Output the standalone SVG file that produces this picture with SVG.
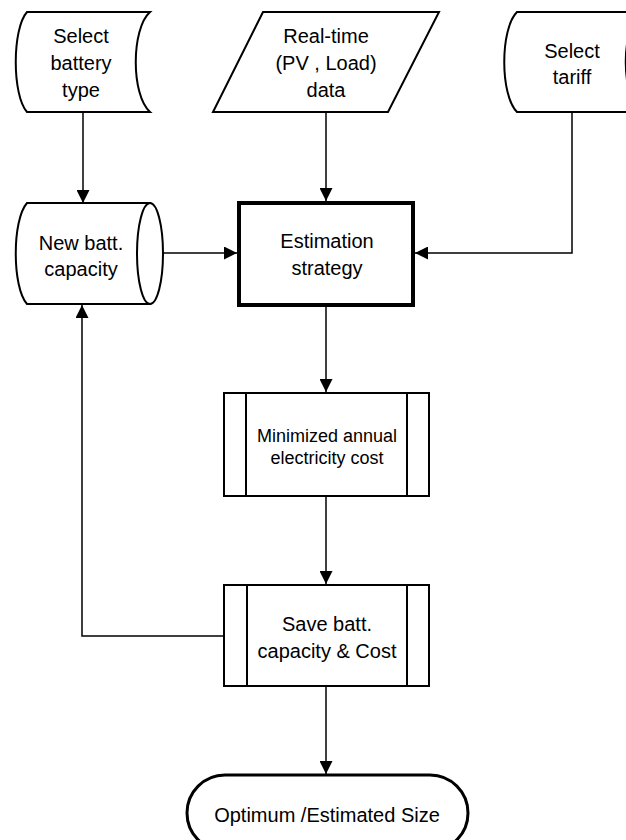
<svg xmlns="http://www.w3.org/2000/svg" width="626" height="840" viewBox="0 0 626 840">
  <style>
    .shape { fill: #fff; stroke: #000; stroke-width: 2; stroke-linejoin: miter; }
    .thick { stroke-width: 4; }
    .term { stroke-width: 3; }
    .edge { fill: none; stroke: #000; stroke-width: 1.5; }
    text { font-family: "Liberation Sans", Arial, sans-serif; font-size: 20px; fill: #000; text-anchor: middle; }
    .small { font-size: 18px; }
  </style>
  <defs>
    <marker id="arrow" viewBox="0 0 10 10" refX="10" refY="5" markerWidth="13" markerHeight="13" markerUnits="userSpaceOnUse" orient="auto">
      <path d="M0,0 L10,5 L0,10 Z" fill="#000"/>
    </marker>
  </defs>

  <rect width="626" height="840" fill="#fff"/>

  <!-- connectors -->
  <g id="connectors">
    <path class="edge" d="M83,112 V203" marker-end="url(#arrow)"/>
    <path class="edge" d="M326,112 V201" marker-end="url(#arrow)"/>
    <path class="edge" d="M572,112 V253 H415" marker-end="url(#arrow)"/>
    <path class="edge" d="M163,253 H237" marker-end="url(#arrow)"/>
    <path class="edge" d="M326,307 V392" marker-end="url(#arrow)"/>
    <path class="edge" d="M326,496 V584" marker-end="url(#arrow)"/>
    <path class="edge" d="M224,636 H82 V305" marker-end="url(#arrow)"/>
    <path class="edge" d="M326,686 V774" marker-end="url(#arrow)"/>
  </g>

  <!-- stored data: battery type -->
  <g id="select-battery">
    <path class="shape" d="M27,12 L150,12 C131,29 131,95 150,112 L27,112 C12,95 12,29 27,12 Z"/>
    <text x="81" y="43">Select</text>
    <text x="81" y="70">battery</text>
    <text x="81" y="97">type</text>
  </g>

  <!-- input data: measurements -->
  <g id="realtime-data">
    <path class="shape" d="M263,12 L439,12 L388,112 L213,112 Z"/>
    <text x="326" y="43">Real-time</text>
    <text x="326" y="70">(PV , Load)</text>
    <text x="326" y="97">data</text>
  </g>

  <!-- stored data: tariff -->
  <g id="select-tariff">
    <path class="shape" d="M517,12 L640,12 C621,29 621,95 640,112 L517,112 C500,95 500,29 517,12 Z"/>
    <text x="572" y="58">Select</text>
    <text x="572" y="84">tariff</text>
  </g>

  <!-- direct access storage: new capacity -->
  <g id="new-capacity">
    <path class="shape" d="M150,203 L27,203 C12,220 12,287 27,304 L150,304 Z"/>
    <ellipse class="shape" cx="150" cy="253.5" rx="13" ry="50.5"/>
    <text x="81" y="250">New batt.</text>
    <text x="81" y="276">capacity</text>
  </g>

  <!-- process -->
  <g id="estimation">
    <rect class="shape thick" x="239" y="203" width="174" height="102"/>
    <text x="327" y="248">Estimation</text>
    <text x="327" y="275">strategy</text>
  </g>

  <!-- predefined process: cost minimisation -->
  <g id="minimized-cost">
    <rect class="shape" x="224" y="393" width="205" height="103"/>
    <path class="shape" d="M246,393 V496 M407,393 V496"/>
    <text class="small" x="327" y="442">Minimized annual</text>
    <text class="small" x="327" y="464">electricity cost</text>
  </g>

  <!-- predefined process: save results -->
  <g id="save-results">
    <rect class="shape" x="224" y="585" width="205" height="101"/>
    <path class="shape" d="M247,585 V686 M407,585 V686"/>
    <text x="327" y="631">Save batt.</text>
    <text x="327" y="658">capacity &amp; Cost</text>
  </g>

  <!-- terminator -->
  <g id="optimum-size">
    <rect class="shape term" x="187" y="775" width="281" height="76" rx="38" ry="38"/>
    <text x="327" y="822">Optimum /Estimated Size</text>
  </g>
</svg>
